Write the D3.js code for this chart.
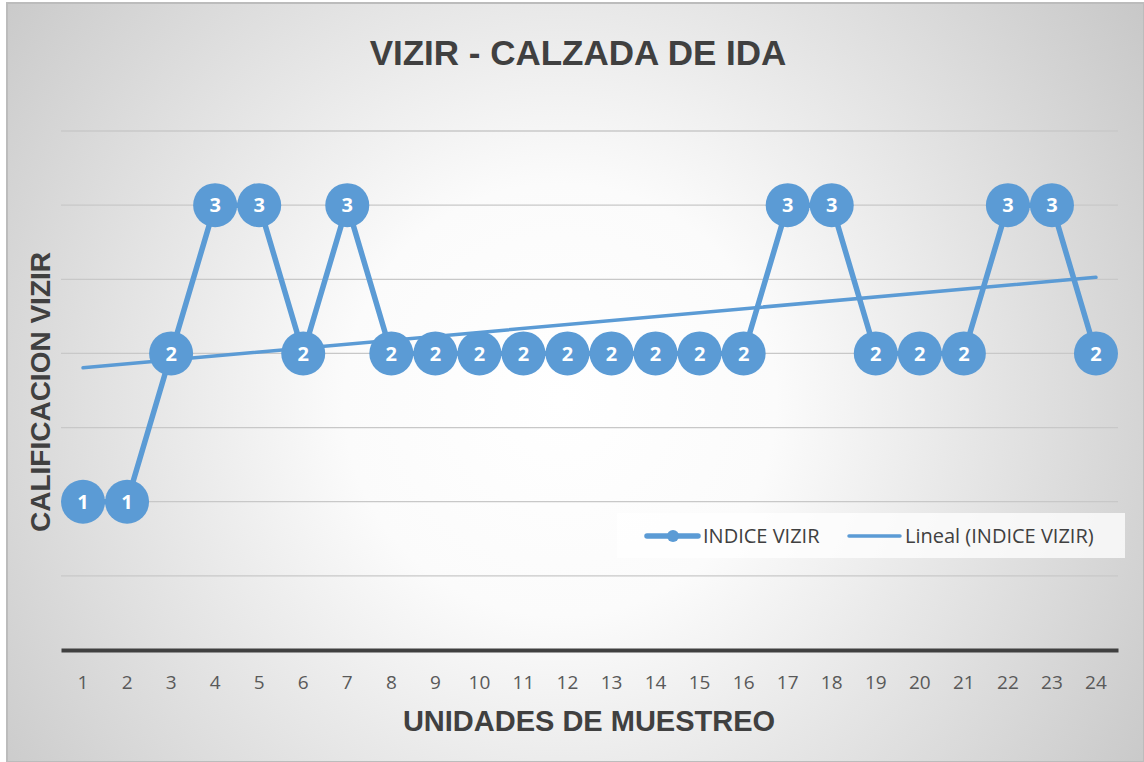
<!DOCTYPE html>
<html>
<head>
<meta charset="utf-8">
<title>VIZIR - CALZADA DE IDA</title>
<style>
  body { margin: 0; background: #fff; }
  svg { display: block; }
  .tick text { font-family: "Open Sans", "Liberation Sans", sans-serif; font-size: 19px; fill: #595959; }
</style>
</head>
<body>
<svg id="chart" width="1144" height="762"></svg>
<script src="https://d3js.org/d3.v7.min.js"></script>
<script>
// datos
var unidades = ["1","2","3","4","5","6","7","8","9","10","11","12","13","14","15","16","17","18","19","20","21","22","23","24"];
var indiceVizir = [1,1,2,3,3,2,3,2,2,2,2,2,2,2,2,2,3,3,2,2,2,3,3,2];
var yTicks = [0, 0.5, 1, 1.5, 2, 2.5, 3, 3.5];

var svg = d3.select("#chart"),
    width = +svg.attr("width"),
    height = +svg.attr("height");

var blue = "#5b9bd5";

// fondo con degradado radial
var defs = svg.append("defs");
var grad = defs.append("radialGradient")
    .attr("id", "bg")
    .attr("gradientUnits", "userSpaceOnUse")
    .attr("cx", 560).attr("cy", 400).attr("r", 720);
grad.append("stop").attr("offset", "0%").attr("stop-color", "#ffffff");
grad.append("stop").attr("offset", "30%").attr("stop-color", "#fbfbfb");
grad.append("stop").attr("offset", "100%").attr("stop-color", "#c6c6c6");

svg.append("rect")
    .attr("x", 7).attr("y", 3)
    .attr("width", width - 7).attr("height", height - 3)
    .attr("fill", "url(#bg)")
    .attr("stroke", "#bcbcbc").attr("stroke-width", 2);

var x = d3.scaleBand().domain(unidades).range([61, 1118]);
var y = d3.scaleLinear().domain([0, 3.5]).range([650, 131]);
var cx = function(d, i) { return x(unidades[i]) + x.bandwidth() / 2; };

// lineas de cuadricula
svg.append("g").selectAll("line")
    .data(yTicks.slice(1))
    .enter().append("line")
    .attr("x1", 61).attr("x2", 1118)
    .attr("y1", function(d) { return y(d); })
    .attr("y2", function(d) { return y(d); })
    .attr("stroke", "#c8c8c8").attr("stroke-width", 1.3);

// eje x
var xAxis = svg.append("g")
    .attr("transform", "translate(0," + y(0) + ")")
    .call(d3.axisBottom(x).tickSize(0).tickPadding(26));
xAxis.select(".domain").attr("stroke", "#404040").attr("stroke-width", 4);

// linea de tendencia (regresion lineal)
var xs = indiceVizir.map(function(d, i) { return i + 1; });
var mx = d3.mean(xs), my = d3.mean(indiceVizir);
var sxy = d3.sum(xs, function(v, i) { return (v - mx) * (indiceVizir[i] - my); });
var sxx = d3.sum(xs, function(v) { return (v - mx) * (v - mx); });
var slope = sxy / sxx, inter = my - slope * mx;
var trend = [1, unidades.length].map(function(v) { return { u: v, val: inter + slope * v }; });

// serie
var line = d3.line()
    .x(function(d, i) { return cx(d, i); })
    .y(function(d) { return y(d); });

svg.append("path")
    .datum(indiceVizir)
    .attr("d", line)
    .attr("fill", "none")
    .attr("stroke", blue)
    .attr("stroke-width", 5.5)
    .attr("stroke-linejoin", "round");

svg.append("line")
    .attr("x1", x(String(trend[0].u)) + x.bandwidth() / 2)
    .attr("x2", x(String(trend[1].u)) + x.bandwidth() / 2)
    .attr("y1", y(trend[0].val))
    .attr("y2", y(trend[1].val))
    .attr("stroke", blue).attr("stroke-width", 3.5).attr("stroke-linecap", "round");

var pts = svg.append("g").selectAll("g")
    .data(indiceVizir)
    .enter().append("g")
    .attr("transform", function(d, i) { return "translate(" + cx(d, i) + "," + y(d) + ")"; });

pts.append("circle").attr("r", 22).attr("fill", blue);
pts.append("text")
    .attr("text-anchor", "middle")
    .attr("dy", "0.36em")
    .attr("fill", "#fff")
    .style("font-family", "'Open Sans', 'Liberation Sans', sans-serif")
    .style("font-weight", "bold")
    .style("font-size", "20px")
    .text(function(d) { return d; });

// titulos
svg.append("text")
    .attr("x", 578).attr("y", 65)
    .attr("text-anchor", "middle")
    .attr("fill", "#404040")
    .style("font-family", "'Liberation Sans', Arial, sans-serif")
    .style("font-weight", "bold").style("font-size", "35px")
    .text("VIZIR - CALZADA DE IDA");

svg.append("text")
    .attr("x", 589).attr("y", 731)
    .attr("text-anchor", "middle")
    .attr("fill", "#404040")
    .style("font-family", "'Liberation Sans', Arial, sans-serif")
    .style("font-weight", "bold").style("font-size", "29px")
    .text("UNIDADES DE MUESTREO");

svg.append("text")
    .attr("transform", "translate(50,392) rotate(-90)")
    .attr("text-anchor", "middle")
    .attr("fill", "#404040")
    .style("font-family", "'Liberation Sans', Arial, sans-serif")
    .style("font-weight", "bold").style("font-size", "28px")
    .text("CALIFICACION VIZIR");

// leyenda
var legend = svg.append("g").attr("transform", "translate(617,513)");
legend.append("rect")
    .attr("width", 508).attr("height", 45)
    .attr("fill", "#ffffff").attr("fill-opacity", 0.75);
legend.append("line")
    .attr("x1", 30).attr("x2", 81).attr("y1", 23).attr("y2", 23)
    .attr("stroke", blue).attr("stroke-width", 5.5).attr("stroke-linecap", "round");
legend.append("circle").attr("cx", 56).attr("cy", 23).attr("r", 6).attr("fill", blue);
legend.append("text")
    .attr("x", 86).attr("y", 23).attr("dy", "0.35em")
    .attr("fill", "#404040")
    .style("font-family", "'Open Sans', 'Liberation Sans', sans-serif").style("font-size", "20px")
    .text("INDICE VIZIR");
legend.append("line")
    .attr("x1", 232).attr("x2", 283).attr("y1", 23).attr("y2", 23)
    .attr("stroke", blue).attr("stroke-width", 3.5).attr("stroke-linecap", "round");
legend.append("text")
    .attr("x", 288).attr("y", 23).attr("dy", "0.35em")
    .attr("fill", "#404040")
    .style("font-family", "'Open Sans', 'Liberation Sans', sans-serif").style("font-size", "20px")
    .text("Lineal (INDICE VIZIR)");
</script>
</body>
</html>
